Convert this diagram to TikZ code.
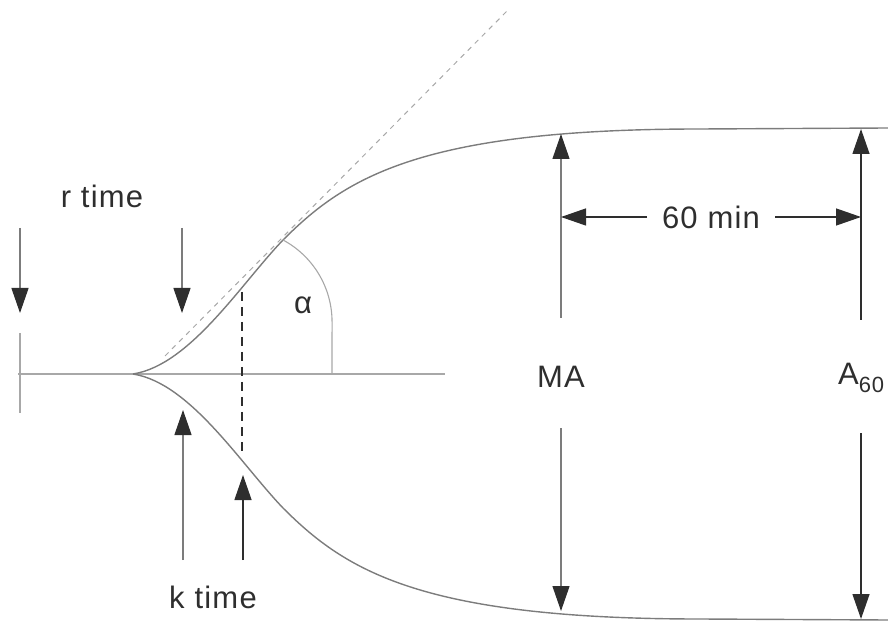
\documentclass[tikz,border=0pt]{standalone}
\usepackage{fontspec}
\setmainfont{Liberation Sans}[LetterSpace=4]
\usepackage{tikz}
\usetikzlibrary{arrows.meta,positioning,calc}
\definecolor{tgink}  {HTML}{2E2E2E}
\definecolor{tgline} {HTML}{7C7C7C}
\definecolor{tglight}{HTML}{A8A8A8}
\tikzset{
  tglabel/.style={font=\fontsize{31}{36}\selectfont, text=tgink, inner sep=0pt},
  tgcurve/.style={draw=tgline, line width=1.4pt},
  tgthin/.style={draw=tglight, line width=1.1pt},
  tgarrow/.style={-{Triangle[length=25pt,width=17pt,color=tgink]}, draw=tgline,
                  line width=1.2pt},
  tgdimen/.style={tgarrow, draw=tgink, line width=1.3pt},
  tgtangent/.style={draw=tglight, line width=1pt, dash pattern=on 5pt off 5pt},
  tgdrop/.style={draw=tgink, line width=1.1pt, dash pattern=on 9pt off 6pt},
}
% upper half of the trace, baseline at y=0
\newcommand{\tgtrace}{(133,0) .. controls (190,9) and (240,89) .. (283,134)
  .. controls (345,196) and (420,245) .. (700,245) -- (888,246)}

\begin{document}
\begin{tikzpicture}[x=1pt,y=1pt]
  \useasboundingbox (0,-249) rectangle (888,374);

  % baseline and trace
  \draw[tgthin] (18,0) -- (445,0);
  \draw[tgthin] (20,41) -- (20,-39);
  \draw[tgcurve] \tgtrace;
  \draw[tgcurve,yscale=-1] \tgtrace;

  % tangent, angle and drop line
  \coordinate (touch) at (283,134);
  \coordinate (kup)   at (242,82);
  \coordinate (klow)  at (242,-77);
  \draw[tgtangent] (165,18) -- (508,364);
  \draw[tgthin] (touch) arc[start angle=61.8, end angle=0, radius=93] -- (332,1);
  \node[tglabel] (alpha) at (303,69) {α};
  \draw[tgdrop] (kup) -- (klow);

  % r time
  \node[tglabel] (rtime) at (102,178) {r time};
  \coordinate (r0) at (20,61);
  \coordinate (r1) at (182,61);
  \draw[tgarrow] (20,146) -- (r0);
  \draw[tgarrow] (182,146) -- (r1);

  % k time
  \node[tglabel] (ktime) at (213,-223) {k time};
  \coordinate (k0) at (183,-36);
  \coordinate (k1) at (243,-101);
  \draw[tgarrow] (183,-186) -- (k0);
  \draw[tgdimen] (243,-186) -- (k1);

  % MA
  \node[tglabel] (ma) at (561,-3) {MA};
  \coordinate (matop) at (561,240);
  \coordinate (mabot) at (561,-237);
  \draw[tgarrow] (561,56) -- (matop);
  \draw[tgarrow] (561,-54) -- (mabot);

  % A60
  \node[tglabel,anchor=west] (a60) at (838,-4)
    {A\raisebox{-0.28em}{\fontsize{22}{22}\selectfont 60}};
  \coordinate (atop) at (861,245);
  \coordinate (abot) at (861,-245);
  \draw[tgdimen] (861,54) -- (atop);
  \draw[tgdimen] (861,-59) -- (abot);

  % 60 min
  \node[tglabel] (min) at (711,157) {60 min};
  \coordinate (minl) at (647,157);
  \coordinate (minr) at (775,157);
  \draw[tgdimen] (minl) -- (561,157);
  \draw[tgdimen] (minr) -- (861,157);
\end{tikzpicture}
\end{document}
